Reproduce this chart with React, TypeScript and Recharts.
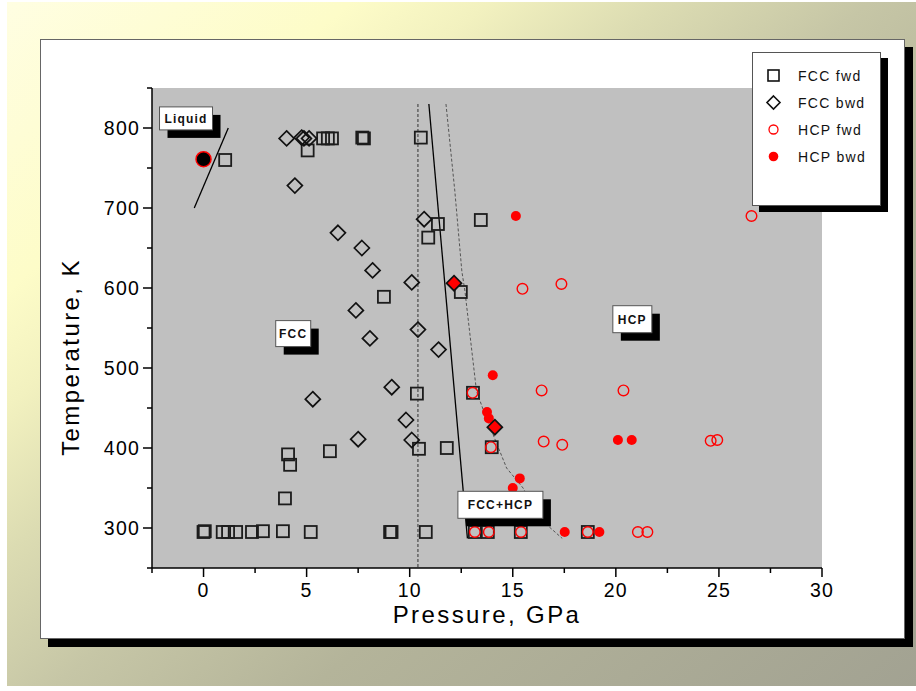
import { ScatterChart, Scatter, XAxis, YAxis, ReferenceArea, ReferenceDot, Legend, Label } from 'recharts'

const FONT = '"Liberation Sans", Arial, Helvetica, sans-serif'

// measured points, pressure in GPa / temperature in K
const fccFwd = [
  { x: 0.0, y: 295 }, { x: 0.06, y: 296 }, { x: 0.93, y: 295 }, { x: 1.19, y: 295 }, { x: 1.58, y: 295 },
  { x: 2.35, y: 295 }, { x: 2.88, y: 296 }, { x: 3.85, y: 296 }, { x: 5.2, y: 295 }, { x: 9.05, y: 295 },
  { x: 9.12, y: 295 }, { x: 10.78, y: 295 }, { x: 13.16, y: 295 }, { x: 13.79, y: 295 }, { x: 15.39, y: 295 },
  { x: 18.64, y: 295 },
  { x: 1.05, y: 760 }, { x: 5.05, y: 772 }, { x: 5.8, y: 787 }, { x: 6.03, y: 787 }, { x: 6.23, y: 787 },
  { x: 7.7, y: 788 }, { x: 7.78, y: 787 }, { x: 10.54, y: 788 },
  { x: 11.37, y: 680 }, { x: 10.9, y: 663 }, { x: 13.45, y: 685 }, { x: 12.48, y: 595 }, { x: 8.75, y: 589 },
  { x: 10.35, y: 468 }, { x: 10.45, y: 399 }, { x: 11.8, y: 400 }, { x: 6.13, y: 396 }, { x: 4.1, y: 392 },
  { x: 4.2, y: 379 }, { x: 3.95, y: 337 }, { x: 13.07, y: 469 }, { x: 13.98, y: 401 },
]

const fccBwd = [
  { x: 4.03, y: 787 }, { x: 4.76, y: 788 }, { x: 4.87, y: 787 }, { x: 5.12, y: 787 }, { x: 4.43, y: 728 },
  { x: 6.52, y: 669 }, { x: 7.68, y: 650 }, { x: 8.2, y: 622 }, { x: 7.39, y: 572 }, { x: 8.07, y: 537 },
  { x: 10.1, y: 607 }, { x: 10.7, y: 686 }, { x: 10.4, y: 548 }, { x: 11.4, y: 523 }, { x: 9.13, y: 476 },
  { x: 5.3, y: 461 }, { x: 9.82, y: 435 }, { x: 10.1, y: 410 }, { x: 7.5, y: 411 },
  { x: 12.15, y: 606 }, { x: 14.13, y: 426 },
]

const hcpFwd = [
  { x: 26.58, y: 690 }, { x: 15.47, y: 599 }, { x: 17.36, y: 605 }, { x: 13.05, y: 469 }, { x: 16.4, y: 472 },
  { x: 20.37, y: 472 }, { x: 13.94, y: 401 }, { x: 16.5, y: 408 }, { x: 17.4, y: 404 }, { x: 24.6, y: 409 },
  { x: 24.92, y: 410 },
  { x: 13.16, y: 295 }, { x: 13.84, y: 295 }, { x: 15.4, y: 295 }, { x: 18.64, y: 295 }, { x: 21.07, y: 295 },
  { x: 21.53, y: 295 },
]

const hcpBwd = [
  { x: 15.15, y: 690 }, { x: 14.03, y: 491 }, { x: 13.75, y: 445 }, { x: 13.84, y: 437 }, { x: 15.34, y: 362 },
  { x: 15.0, y: 350 }, { x: 17.52, y: 295 }, { x: 19.2, y: 295 }, { x: 20.1, y: 410 }, { x: 20.77, y: 410 },
  { x: 12.15, y: 606 }, { x: 14.13, y: 426 },
]

const liquidPoint = [{ x: 0.0, y: 761 }]

const meltLine = [{ x: -0.45, y: 700 }, { x: 1.2, y: 800 }]
const fccLimit = [{ x: 10.4, y: 830 }, { x: 10.4, y: 250 }]
const hcpOnset = [{ x: 10.93, y: 830 }, { x: 12.8, y: 287 }]
const hcpCurve = [
  { x: 11.76, y: 830 }, { x: 12.19, y: 721 }, { x: 12.53, y: 621 }, { x: 12.68, y: 596 }, { x: 13.24, y: 471 },
  { x: 13.65, y: 442 }, { x: 14.7, y: 375 }, { x: 15.5, y: 350 }, { x: 16.3, y: 312 }, { x: 17.4, y: 287 },
]

const xTicks = [-2.5, 0, 2.5, 5, 7.5, 10, 12.5, 15, 17.5, 20, 22.5, 25, 27.5, 30]
const yTicks = [250, 300, 350, 400, 450, 500, 550, 600, 650, 700, 750, 800, 850]

const phaseLabels = [
  { text: 'Liquid', x: -0.85, y: 812 },
  { text: 'FCC', x: 4.35, y: 543 },
  { text: 'HCP', x: 20.8, y: 561 },
  { text: 'FCC+HCP', x: 14.4, y: 329 },
]

const seriesNames = ['FCC fwd', 'FCC bwd', 'HCP fwd', 'HCP bwd']

const boxSize: Record<string, [number, number]> = {
  Liquid: [53, 23], FCC: [35, 26], HCP: [39, 27], 'FCC+HCP': [85, 27],
}

const Square = ({ cx, cy }: any) => (
  <rect x={cx - 6} y={cy - 6} width={12} height={12} fill="none" stroke="#1c1c1c" strokeWidth={1.8} />
)

const isMixed = (p: any) => hcpBwd.some(h => h.x === p.x && h.y === p.y)

const Diamond = ({ cx, cy, payload }: any) => (
  <polygon
    points={`${cx},${cy - 7.5} ${cx + 7.5},${cy} ${cx},${cy + 7.5} ${cx - 7.5},${cy}`}
    fill={payload && isMixed(payload) ? '#ff0000' : 'none'}
    stroke="#111"
    strokeWidth={1.7}
  />
)

const OpenCircle = ({ cx, cy }: any) => <circle cx={cx} cy={cy} r={5.3} fill="none" stroke="#ff0000" strokeWidth={1.4} />
const Dot = ({ cx, cy }: any) => <circle cx={cx} cy={cy} r={5} fill="#ff0000" />
const BigDot = ({ cx, cy }: any) => <circle cx={cx} cy={cy} r={7.5} fill="#000" stroke="#ff0000" strokeWidth={1.5} />
const NoShape = () => <g />

const legendSymbol = (name: string) => {
  if (name === 'FCC fwd') return <rect x={3} y={3} width={11} height={11} fill="none" stroke="#111" strokeWidth={1.6} />
  if (name === 'FCC bwd') return <polygon points="8.5,2 15,8.5 8.5,15 2,8.5" fill="none" stroke="#111" strokeWidth={1.6} />
  if (name === 'HCP fwd') return <circle cx={8.5} cy={8.5} r={4.5} fill="none" stroke="#ff0000" strokeWidth={1.3} />
  return <circle cx={8.5} cy={8.5} r={4.8} fill="#ff0000" />
}

const renderLegend = () => (
  <div style={{ position: 'relative', width: 127, height: 152, background: '#fff', border: '1px solid #555', boxShadow: '7px 6px 0 #000', fontFamily: FONT }}>
    {seriesNames.map((name, i) => (
      <div key={name} style={{ position: 'absolute', left: 12, top: 14 + i * 27, height: 17, display: 'flex', alignItems: 'center' }}>
        <svg width={17} height={17}>{legendSymbol(name)}</svg>
        <span style={{ marginLeft: 16, fontSize: 14, letterSpacing: 1.3, color: '#111' }}>{name}</span>
      </div>
    ))}
  </div>
)

const XTick = ({ x, y, payload }: any) => {
  const major = payload.value % 5 === 0
  return (
    <g>
      <line x1={x} y1={y} x2={x} y2={y + (major ? 9 : 5)} stroke="#000" strokeWidth={1.5} />
      {major && (
        <text x={x} y={y + 29} textAnchor="middle" fontFamily={FONT} fontSize={19.5} letterSpacing={1.2} fill="#000">
          {payload.value}
        </text>
      )}
    </g>
  )
}

const YTick = ({ x, y, payload }: any) => {
  const major = payload.value % 100 === 0 && payload.value !== 250
  return (
    <g>
      <line x1={x} y1={y} x2={x - (major ? 9 : 5)} y2={y} stroke="#000" strokeWidth={1.5} />
      {major && payload.value !== 850 && (
        <text x={x - 12} y={y + 7} textAnchor="end" fontFamily={FONT} fontSize={19.5} letterSpacing={1.2} fill="#000">
          {payload.value}
        </text>
      )}
    </g>
  )
}

const YTitle = ({ viewBox }: any) => {
  const cx = viewBox.x - 22
  const cy = viewBox.y + viewBox.height / 2 + 29
  return (
    <text x={cx} y={cy} transform={`rotate(-90 ${cx} ${cy})`} textAnchor="middle" dominantBaseline="central"
      fontFamily={FONT} fontSize={24} letterSpacing={2.4} fill="#000">
      Temperature, K
    </text>
  )
}

const PhaseBox = ({ cx, cy, text }: any) => {
  const [w, h] = boxSize[text]
  const left = cx - w / 2
  const top = cy - h / 2
  return (
    <g>
      <rect x={left + 8} y={top + 8} width={w} height={h} fill="#000" />
      <rect x={left} y={top} width={w} height={h} fill="#fff" stroke="#555" strokeWidth={1} />
      <text x={cx} y={cy + 4.5} textAnchor="middle" fontFamily={FONT} fontWeight="bold" fontSize={12} letterSpacing={1.2} fill="#111">
        {text}
      </text>
    </g>
  )
}

export default function App() {
  return (
    <div style={{ position: 'absolute', left: 0, top: 0, width: 916, height: 691, background: '#fff', overflow: 'hidden' }}>
      <div
        style={{
          position: 'absolute', left: 7, top: 2, width: 909, height: 684,
          background: 'linear-gradient(140deg, #fffee2 0%, #fdfcc8 20%, #f2f1bf 28%, #dcdcb2 38%, #c6c6a6 50%, #b4b49a 65%, #a2a292 100%)',
        }}
      />
      <div
        style={{
          position: 'absolute', left: 40, top: 39, width: 865, height: 600,
          background: '#fff', border: '1px solid #666', boxSizing: 'border-box', boxShadow: '8px 8px 0 #000',
        }}
      />
      <div style={{ position: 'absolute', left: 0, top: 0 }}>
        <ScatterChart width={916} height={691} margin={{ top: 88, right: 94, bottom: 63, left: 92 }}>
          <XAxis
            type="number" dataKey="x" domain={[-2.5, 30]} ticks={xTicks} interval={0} allowDataOverflow
            height={60} tickSize={0} tickMargin={0} tick={<XTick />} axisLine={{ stroke: '#000', strokeWidth: 1.5 }}
            label={{ value: 'Pressure, GPa', position: 'insideBottom', offset: 5, fontFamily: FONT, fontSize: 24, letterSpacing: 2.4, fill: '#000' }}
          />
          <YAxis
            type="number" dataKey="y" domain={[250, 850]} ticks={yTicks} interval={0} allowDataOverflow
            width={60} tickSize={0} tickMargin={0} tick={<YTick />} axisLine={{ stroke: '#000', strokeWidth: 1.5 }}
          >
            <Label content={<YTitle />} />
          </YAxis>
          <ReferenceArea x1={-2.5} x2={30} y1={250} y2={850} fill="#c0c0c0" fillOpacity={1} stroke="none" />
          <Scatter name="melt" data={meltLine} line={{ stroke: '#000', strokeWidth: 1.3 }} shape={NoShape} legendType="none" isAnimationActive={false} />
          <Scatter name="fccLimit" data={fccLimit} line={{ stroke: '#333', strokeWidth: 1, strokeDasharray: '3 2' }} shape={NoShape} legendType="none" isAnimationActive={false} />
          <Scatter name="hcpOnset" data={hcpOnset} line={{ stroke: '#000', strokeWidth: 1.3 }} shape={NoShape} legendType="none" isAnimationActive={false} />
          <Scatter name="hcpCurve" data={hcpCurve} line={{ stroke: '#555', strokeWidth: 1, strokeDasharray: '3 2' }} shape={NoShape} legendType="none" isAnimationActive={false} />
          <Scatter name="FCC fwd" data={fccFwd} shape={Square} isAnimationActive={false} />
          <Scatter name="HCP bwd" data={hcpBwd} shape={Dot} isAnimationActive={false} />
          <Scatter name="FCC bwd" data={fccBwd} shape={Diamond} isAnimationActive={false} />
          <Scatter name="HCP fwd" data={hcpFwd} shape={OpenCircle} isAnimationActive={false} />
          <Scatter name="liquid" data={liquidPoint} shape={BigDot} legendType="none" isAnimationActive={false} />
          {phaseLabels.map(l => (
            <ReferenceDot key={l.text} x={l.x} y={l.y} r={0} shape={(p: any) => <PhaseBox {...p} text={l.text} />} />
          ))}
          <Legend
            layout="vertical" align="center" verticalAlign="middle" content={renderLegend}
            wrapperStyle={{ left: 752, top: 52, width: 128, height: 153 }}
          />
        </ScatterChart>
      </div>
    </div>
  )
}
